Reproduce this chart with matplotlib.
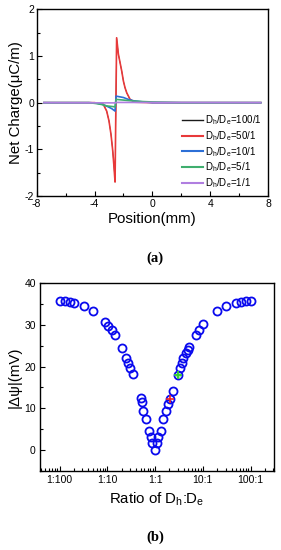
import matplotlib
matplotlib.use("Agg")
import matplotlib.pyplot as plt
from matplotlib.ticker import MultipleLocator, LogLocator, FixedLocator, NullFormatter

plt.rcParams['font.family'] = ['Liberation Sans', 'DejaVu Sans']
plt.rcParams['mathtext.fontset'] = 'custom'
plt.rcParams['mathtext.rm'] = 'Liberation Sans'
plt.rcParams['mathtext.it'] = 'Liberation Sans:italic'
plt.rcParams['axes.unicode_minus'] = False

# (a) net charge vs position, one pair of lists per ratio
pos_50 = [-7.5, -4.0, -3.4, -3.16, -3.0, -2.86, -2.74, -2.65, -2.58, -2.47, -2.35,
          -2.12, -2.0, -1.89, -1.77, -1.54, -1.2, 0.0, 7.5]
q_50 = [0.0, 0.0, -0.03, -0.18, -0.39, -0.68, -1.03, -1.39, -1.70, 1.39, 1.04,
        0.68, 0.46, 0.32, 0.21, 0.07, 0.01, 0.0, 0.0]
pos_100 = pos_50
q_100 = q_50
pos_10 = [-7.5, -4.3, -3.9, -3.5, -3.05, -2.8, -2.58, -2.51, -2.0, -1.66, -1.3,
          -0.6, 0.0, 7.5]
q_10 = [0.0, 0.0, -0.01, -0.03, -0.09, -0.13, -0.18, 0.14, 0.11, 0.07, 0.04,
        0.015, 0.0, 0.0]
pos_5 = [-7.5, -4.4, -3.85, -3.5, -3.16, -2.85, -2.58, -2.51, -2.0, -1.5, -0.8,
         0.0, 1.0, 2.0, 7.5]
q_5 = [0.0, 0.0, -0.02, -0.04, -0.07, -0.08, -0.09, 0.07, 0.055, 0.04, 0.025,
       0.015, 0.008, 0.0, 0.0]
pos_1 = [-7.5, -2.55, -2.5, 7.5]
q_1 = [0.0, -0.005, 0.005, 0.0]

labels_a = ['D$_{\\rm h}$/D$_{\\rm e}$=100/1', 'D$_{\\rm h}$/D$_{\\rm e}$=50/1',
            'D$_{\\rm h}$/D$_{\\rm e}$=10/1', 'D$_{\\rm h}$/D$_{\\rm e}$=5/1',
            'D$_{\\rm h}$/D$_{\\rm e}$=1/1']
colors_a = ['#1a1a1a', '#e8393a', '#2c6fd6', '#3fae6e', '#b07ee0']

# (b) |delta psi| vs ratio Dh:De
ratio = [0.01, 0.0132, 0.0166, 0.0204, 0.033, 0.051, 0.091, 0.105, 0.123, 0.145,
         0.2, 0.245, 0.27, 0.3, 0.34, 0.5, 0.525, 0.569, 0.631, 0.759, 0.822,
         0.871, 1.0, 1.12, 1.17, 1.32, 1.48, 1.7, 1.84, 2.04, 2.34, 3.09, 3.31,
         3.63, 3.89, 4.37, 4.79, 5.13, 7.08, 8.13, 10.0, 20.0, 30.9, 49.0, 61.7,
         79.4, 100.0]
dpsi = [35.8, 35.6, 35.4, 35.2, 34.4, 33.3, 30.6, 29.8, 28.8, 27.6,
        24.4, 22.0, 20.9, 19.6, 18.2, 12.4, 11.4, 9.4, 7.4, 4.6, 3.2,
        1.6, 0.0, 1.6, 3.2, 4.6, 7.4, 9.4, 11.0, 12.2, 14.2, 18.0, 19.6,
        20.8, 22.0, 23.2, 24.0, 24.6, 27.6, 28.8, 30.1, 33.3, 34.4, 35.2, 35.4,
        35.6, 35.8]
red_ratio, red_dpsi = [2.04], [12.2]
green_ratio, green_dpsi = [3.09], [18.0]
tick_ratios = [0.01, 0.1, 1, 10, 100]
tick_labels_b = ['1:100', '1:10', '1:1', '10:1', '100:1']

fig = plt.figure(figsize=(2.81, 5.5), dpi=100)

# panel (a)
ax1 = fig.add_axes([0.1306, 0.6436, 0.8231, 0.3395])
series = [(pos_100, q_100), (pos_50, q_50), (pos_10, q_10), (pos_5, q_5), (pos_1, q_1)]
widths = [0.5, 1.2, 1.2, 1.2, 1.2]
for (x, y), c, lab, lw in zip(series, colors_a, labels_a, widths):
    ax1.plot(x, y, color=c, lw=lw, label=lab)
ax1.set_xlim(-8, 8)
ax1.set_ylim(-2, 2)
ax1.xaxis.set_major_locator(MultipleLocator(4))
ax1.xaxis.set_minor_locator(MultipleLocator(2))
ax1.yaxis.set_major_locator(MultipleLocator(1))
ax1.yaxis.set_minor_locator(MultipleLocator(0.5))
ax1.tick_params(which='both', direction='in', labelsize=7.5, width=0.8, pad=2)
ax1.tick_params(which='major', length=3.5)
ax1.tick_params(which='minor', length=2)
ax1.set_xlabel('Position(mm)', fontsize=10.8, labelpad=2)
ax1.set_ylabel('Net Charge(μC/m)', fontsize=10.8, labelpad=1)
for s in ax1.spines.values():
    s.set_linewidth(1.0)
leg = ax1.legend(loc='lower right', bbox_to_anchor=(1.0, 0.0), frameon=False,
                 fontsize=7, handlelength=2.2, handletextpad=0.25,
                 labelspacing=0.2, borderaxespad=0.2)
for h in leg.get_lines():
    h.set_linewidth(1.5)
leg.get_lines()[0].set_linewidth(1.0)

fig.text(0.552, 1 - 258 / 550, '(a)', ha='center', va='center', fontsize=10.5,
         fontweight='bold', family='Liberation Serif')

# panel (b)
ax2 = fig.add_axes([0.1423, 0.1436, 0.8328, 0.3419])
ax2.plot(ratio, dpsi, linestyle='none', marker='o', markersize=5.8,
         markerfacecolor='none', markeredgecolor='#0a0aee', markeredgewidth=1.3)
ax2.plot(green_ratio, green_dpsi, linestyle='none', marker='o', markersize=4,
         markerfacecolor='#a8f0a0', markeredgecolor='none')
ax2.plot(green_ratio, green_dpsi, linestyle='none', marker='+', markersize=6,
         color='#33cc33', markeredgewidth=1.3)
ax2.plot(red_ratio, red_dpsi, linestyle='none', marker='+', markersize=6,
         color='#ee2222', markeredgewidth=1.2)
ax2.set_xscale('log')
ax2.set_xlim(10 ** -2.41, 10 ** 2.49)
ax2.set_ylim(-5, 40)
ax2.xaxis.set_major_locator(FixedLocator(tick_ratios))
ax2.set_xticklabels(tick_labels_b)
ax2.xaxis.set_minor_locator(LogLocator(base=10, subs=range(2, 10), numticks=20))
ax2.xaxis.set_minor_formatter(NullFormatter())
ax2.yaxis.set_major_locator(MultipleLocator(10))
ax2.yaxis.set_minor_locator(MultipleLocator(5))
ax2.tick_params(which='both', direction='in', labelsize=7.5, width=0.8, pad=3)
ax2.tick_params(which='major', length=3.5)
ax2.tick_params(which='minor', length=2)
ax2.set_xlabel('Ratio of D$_{\\rm h}$:D$_{\\rm e}$', fontsize=10.8, labelpad=4)
ax2.set_ylabel('|Δψ|(mV)', fontsize=10.8, labelpad=2)
for s in ax2.spines.values():
    s.set_linewidth(1.0)

fig.text(0.552, 1 - 537 / 550, '(b)', ha='center', va='center', fontsize=10.5,
         fontweight='bold', family='Liberation Serif')

fig.savefig('out.png', dpi=100)
plt.close(fig)
